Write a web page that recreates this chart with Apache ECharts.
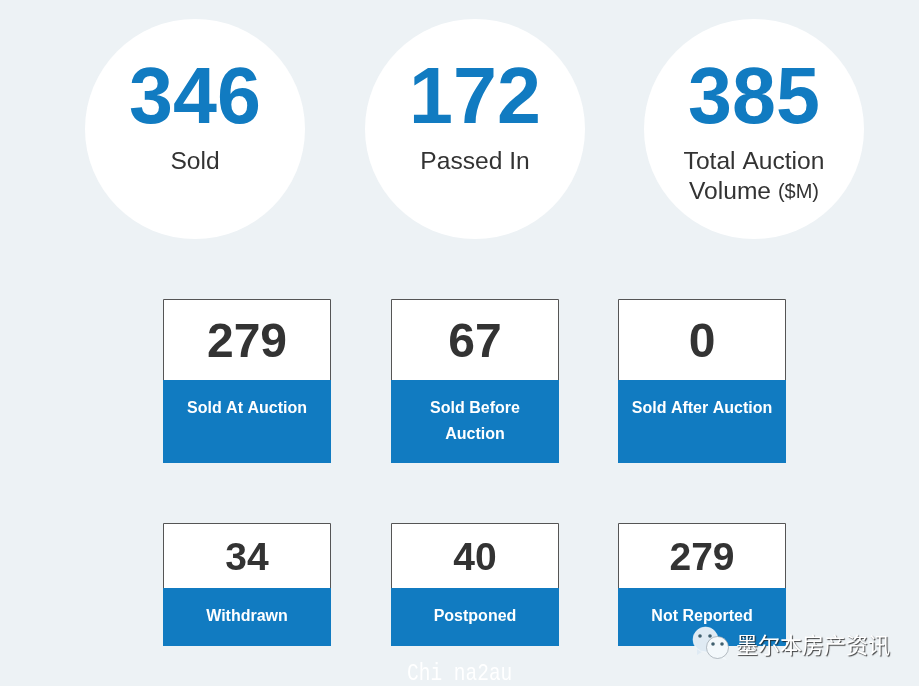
<!DOCTYPE html>
<html>
<head>
<meta charset="utf-8">
<title>Auction results</title>
<script src="https://cdn.jsdelivr.net/npm/echarts@6/dist/echarts.min.js"></script>
<style>
html, body { margin: 0; padding: 0; background: #edf2f5; }
#main { width: 919px; height: 686px; }
</style>
</head>
<body>
<div id="main"></div>
<script>
// headline circles
var circleValues = ['346', '172', '385'];
var circleLabels = ['Sold', 'Passed In', 'Total Auction\n{v|Volume} {u|($M)}'];
// boxes, first row
var saleValues = ['279', '67', '0'];
var saleLabels = ['Sold At Auction', 'Sold Before\nAuction', 'Sold After Auction'];
// boxes, second row
var otherValues = ['34', '40', '279'];
var otherLabels = ['Withdrawn', 'Postponed', 'Not Reported'];
var watermarkName = '墨尔本房产资讯';
var watermarkSite = 'Chi na2au';

var BLUE = '#117bc1', DARK = '#333333', BG = '#edf2f5';
var FONT = '"Liberation Sans", Arial, sans-serif';

var circleX = [195, 475, 754];
var boxX = [163, 391, 618];
var elements = [];

function addText(x, y, text, size, color, weight, extra) {
	var style = {
		text: text,
		x: x,
		y: y,
		fill: color,
		font: (weight || 'normal') + ' ' + size + 'px ' + FONT,
		align: 'center',
		verticalAlign: 'middle'
	};
	for (var k in extra) { style[k] = extra[k]; }
	elements.push({ type: 'text', silent: true, style: style });
}

function addBox(x, top, split, bottom, value, label, numSize, numY, labelY) {
	elements.push({
		type: 'rect',
		shape: { x: x + 0.5, y: top + 0.5, width: 167, height: split - top },
		style: { fill: '#fff', stroke: '#555', lineWidth: 1 }
	});
	elements.push({
		type: 'rect',
		shape: { x: x, y: split, width: 168, height: bottom - split },
		style: { fill: BLUE }
	});
	addText(x + 84, numY, value, numSize, DARK, 'bold');
	addText(x + 84, labelY + (label.indexOf('\n') >= 0 ? 13 : 0), label, 16, '#fff', 'bold', { lineHeight: 26 });
}

circleValues.forEach(function (v, i) {
	elements.push({
		type: 'circle',
		shape: { cx: circleX[i], cy: 129, r: 110 },
		style: { fill: '#fff' }
	});
	addText(circleX[i], 101, v, 79, BLUE, 'bold');
	var two = circleLabels[i].indexOf('\n') >= 0;
	addText(circleX[i], two ? 177 : 162, circleLabels[i], 24.6, DARK, 'normal', {
		lineHeight: 30,
		rich: {
			v: { font: '24.6px ' + FONT, fill: DARK, lineHeight: 30 },
			u: { font: '20px ' + FONT, fill: DARK, lineHeight: 30 }
		}
	});
});

saleValues.forEach(function (v, i) {
	addBox(boxX[i], 299, 380, 463, v, saleLabels[i], 48, 344, 408.5);
});
otherValues.forEach(function (v, i) {
	addBox(boxX[i], 523, 588, 646, v, otherLabels[i], 39, 559, 616.5);
});

// watermark: chat icon, account name, site name
elements.push({ type: 'polygon', shape: { points: [[697, 647], [697, 655], [705, 650]] }, style: { fill: '#dfeaf3' } });
elements.push({ type: 'circle', shape: { cx: 705.5, cy: 639.5, r: 12.5 }, style: { fill: '#dfeaf3', stroke: '#fff', lineWidth: 0.5 } });
elements.push({ type: 'polygon', shape: { points: [[722, 654], [727, 660], [716, 657]] }, style: { fill: '#f3f8fb' } });
elements.push({ type: 'circle', shape: { cx: 717.5, cy: 647.5, r: 11 }, style: { fill: '#f3f8fb', stroke: '#8a949c', lineWidth: 0.6 } });
[[700, 636], [710, 636], [713, 644], [722, 644]].forEach(function (p) {
	elements.push({ type: 'circle', shape: { cx: p[0], cy: p[1], r: 1.8 }, style: { fill: '#41606f' } });
});
elements.push({
	type: 'text',
	silent: true,
	style: {
		text: watermarkName,
		x: 736,
		y: 645,
		fill: '#fff',
		font: '22px "Noto Sans CJK SC", sans-serif',
		align: 'left',
		verticalAlign: 'middle',
		textShadowColor: 'rgba(30,30,30,0.85)',
		textShadowBlur: 1,
		textShadowOffsetX: 1,
		textShadowOffsetY: 1
	}
});
elements.push({
	type: 'text',
	silent: true,
	originX: 407,
	originY: 674,
	scaleY: 1.2,
	style: {
		text: watermarkSite,
		x: 407,
		y: 674,
		fill: '#fff',
		font: '19.5px "Liberation Mono", monospace',
		align: 'left',
		verticalAlign: 'middle'
	}
});

var myChart = echarts.init(document.getElementById('main'));
myChart.setOption({
	backgroundColor: BG,
	animation: false,
	graphic: { elements: elements }
});
</script>
</body>
</html>
